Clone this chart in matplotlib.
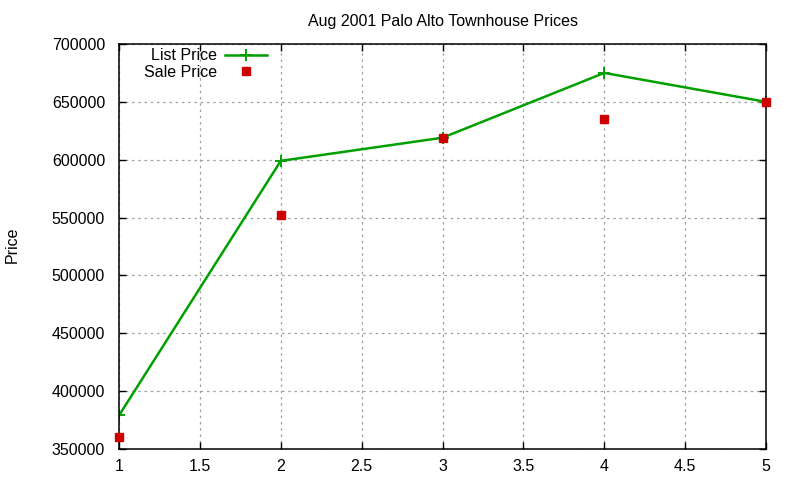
import matplotlib
matplotlib.use("Agg")
import matplotlib.pyplot as plt

x = [1, 2, 3, 4, 5]
list_price = [379000, 599000, 619000, 675000, 650000]
sale_price = [360000, 552000, 619000, 635000, 650000]
xticks = [1, 1.5, 2, 2.5, 3, 3.5, 4, 4.5, 5]
yticks = [350000, 400000, 450000, 500000, 550000, 600000, 650000, 700000]

plt.rcParams['font.family'] = ['Liberation Sans', 'DejaVu Sans']
FS = 11.5
plt.rcParams['font.size'] = FS

fig = plt.figure(figsize=(8, 4.8), dpi=100)
ax = fig.add_axes([119/800, 31/480, (766-119)/800, (449-44)/480])

ax.plot(x, list_price, color='#00a000', lw=1.8, marker='+', ms=8, mew=1.4,
        label='List Price')
ax.plot(x, sale_price, ls='none', color='#cc0000', marker='s', ms=6,
        label='Sale Price', clip_on=False, zorder=5)

ax.set_xlim(1, 5)
ax.set_ylim(350000, 700000)
ax.set_xticks(xticks)
ax.set_xticklabels([('%g' % t) for t in xticks])
ax.set_yticks(yticks)
ax.set_yticklabels([str(t) for t in yticks])
ax.grid(True, color='#a0a0a0', ls=(0, (2, 3)), lw=0.9)
ax.tick_params(direction='in', length=5, top=True, right=True, width=1,
               labelsize=FS)
ax.tick_params(axis='x', pad=7)
ax.tick_params(axis='y', pad=10)
for s in ax.spines.values():
    s.set_linewidth(1.1)

ax.set_title('Aug 2001 Palo Alto Townhouse Prices', fontsize=FS, pad=13)
fig.text(12/800, 1 - 245/480, 'Price', rotation=90, va='center', ha='center',
         fontsize=FS)

leg = ax.legend(loc='upper right', markerfirst=False, frameon=False,
                bbox_to_anchor=(267/800, 1 - 48.5/480),
                bbox_transform=fig.transFigure, handlelength=2.6,
                borderaxespad=0, borderpad=0, labelspacing=0.07,
                handletextpad=0.5, fontsize=FS)

fig.savefig('out.png', dpi=100)
